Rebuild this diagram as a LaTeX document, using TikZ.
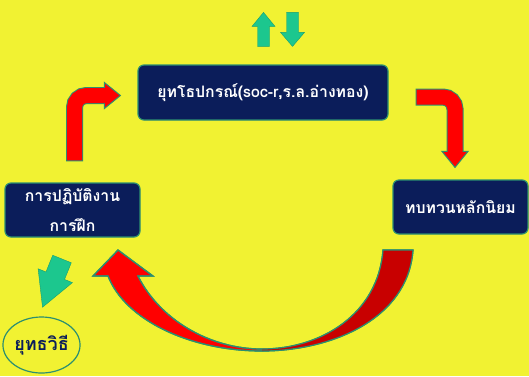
\documentclass[tikz,border=0pt]{standalone}
\usepackage{fontspec}
\newfontfamily\thaifont[Script=Thai]{Loma}
\usetikzlibrary{arrows.meta,positioning,shapes.geometric,calc}
\definecolor{SlideYellow}{HTML}{F1F232}
\definecolor{BoxNavy}{HTML}{0B1D5A}
\definecolor{RimTeal}{HTML}{2C8F70}
\definecolor{TurnGreen}{HTML}{1CC78E}
\definecolor{TurnRed}{HTML}{FF0000}
\definecolor{TurnDarkRed}{HTML}{C80000}
\newcommand{\swooppath}{(383,250) -- (413,250) .. controls (408,320) and (330,351) .. (262,351) .. controls (190,351) and (125,320) .. (108,276) -- (93,276) -- (118,250) -- (153,276) -- (138,276) .. controls (160,320) and (210,349) .. (262,349) .. controls (320,349) and (378,315) .. (383,250) -- cycle}

\begin{document}
\begin{tikzpicture}[x=1pt,y=-1pt,
    panel/.style={rectangle, rounded corners=6pt, draw=RimTeal, line width=1.2pt, fill=BoxNavy, text=white, align=center, font=\thaifont\bfseries\fontsize{15.8}{30}\selectfont, inner sep=0pt},
    redrim/.style={draw=RimTeal, line width=17pt, rounded corners=12pt},
    redband/.style={draw=TurnRed, line width=15pt, rounded corners=12pt, shorten <=1pt},
    redhead/.style={fill=TurnRed, draw=RimTeal, line width=1pt, line join=miter},
    greenarr/.style={fill=TurnGreen, draw=TurnGreen!80!black, line width=0.4pt}
  ]
  % slide background
  \fill[SlideYellow] (0,0) rectangle (529,376);
  \useasboundingbox (0,0) rectangle (529,376);

  % the three boxes and the ellipse
  \node[panel, minimum width=250, minimum height=55] (kit) at (263,92.5) {ยุทโธปกรณ์(soc-r,ร.ล.อ่างทอง)};
  \node[panel, minimum width=135, minimum height=54] (drill) at (72.5,210) {การปฏิบัติงาน\\การฝึก};
  \node[panel, minimum width=135, minimum height=54] (review) at (460.5,207) {ทบทวนหลักนิยม};
  \node[ellipse, draw=RimTeal, line width=1.2pt, minimum width=77, minimum height=56, inner sep=0pt,
        font=\thaifont\bfseries\fontsize{18}{20}\selectfont, text=BoxNavy] (tactic) at (41.5,345) {ยุทธวิธี};

  % green up / down arrows over the top box
  \path[greenarr, shift={($(kit.north)+(0.5,-52)$)}] (0,0) -- (11.5,14) -- (6,14) -- (6,34) -- (-6,34) -- (-6,14) -- (-11.5,14) -- cycle;
  \path[greenarr, shift={($(kit.north)+(29.5,-18)$)}] (0,0) -- (12,-14) -- (6,-14) -- (6,-34) -- (-6,-34) -- (-6,-14) -- (-12,-14) -- cycle;

  % bent arrow: drill -> kit
  \coordinate (upfoot) at ($(drill.north)+(2,-21)$);
  \coordinate (uptip) at ($(kit.west)+(-17,3)$);
  \draw[redrim] (upfoot) |- ($(uptip)+(-16,0)$);
  \filldraw[redhead] ($(uptip)+(-16,-13)$) -- (uptip) -- ($(uptip)+(-16,13)$) -- cycle;
  \draw[redband] (upfoot) |- ($(uptip)+(-14.5,0)$);

  % bent arrow: kit -> review
  \coordinate (downfoot) at ($(kit.east)+(27,4.5)$);
  \coordinate (downtip) at ($(review.north)+(-5.5,-12)$);
  \draw[redrim] (downfoot) -| ($(downtip)+(0,-16)$);
  \filldraw[redhead] ($(downtip)+(-13,-16)$) -- (downtip) -- ($(downtip)+(13,-16)$) -- cycle;
  \draw[redband] (downfoot) -| ($(downtip)+(0,-14.5)$);

  % big curved arrow: review -> drill
  \filldraw[fill=TurnRed, draw=RimTeal, line width=1.2pt] \swooppath;
  \begin{scope}
    \clip (262,240) rectangle (420,360);
    \fill[TurnDarkRed] \swooppath;
  \end{scope}
  \draw[RimTeal, line width=1.2pt] \swooppath;

  % green arrow: drill -> tactic
  \path[greenarr, shift={(62,259)}, rotate=-22] (-10,0) -- (10,0) -- (10,18) -- (18.5,18) -- (0,52) -- (-18.5,18) -- (-10,18) -- cycle;
\end{tikzpicture}
\end{document}
